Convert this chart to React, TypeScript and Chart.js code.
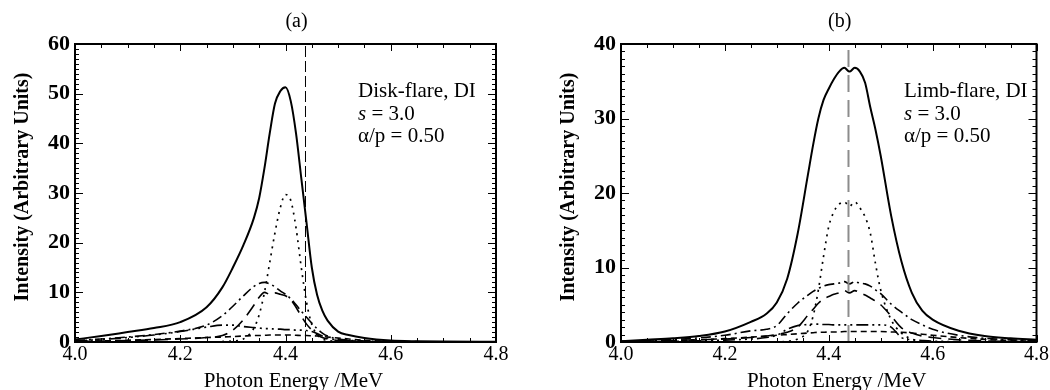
import React, { useEffect, useRef } from "react";
import { Chart, registerables } from "chart.js";

Chart.register(...registerables);

// ---------------- data ----------------
const xTickValues = [4.0, 4.2, 4.4, 4.6, 4.8];
const lineEnergy = 4.438;

// Panel (a): disk flare
const leftEnergy = [4.0, 4.05, 4.1, 4.15, 4.2, 4.25, 4.28, 4.3, 4.32, 4.34, 4.35, 4.36, 4.37, 4.38, 4.39, 4.4, 4.41, 4.42, 4.43, 4.44, 4.45, 4.46, 4.47, 4.48, 4.5, 4.52, 4.55, 4.6, 4.65, 4.7, 4.8];
const leftTotal = [0.5, 1.2, 2.0, 2.8, 4.0, 7.0, 11, 15, 19.5, 25, 29, 35, 42, 48, 50.5, 51.3, 48.5, 42, 33, 24, 15, 9.5, 6.3, 4.3, 2.1, 1.4, 0.8, 0.3, 0.15, 0.08, 0.03];
const leftDotted = [0, 0, 0, 0, 0, 0, 0.1, 0.2, 0.6, 2.8, 5.5, 10, 16, 22, 27, 29.7, 28.5, 23, 15, 8, 3.5, 1.5, 0.6, 0.3, 0.1, 0.05, 0, 0, 0, 0, 0];
const leftDashDot = [0.3, 0.6, 1.0, 1.5, 2.2, 3.4, 5.3, 7.2, 9.3, 11.2, 11.8, 12, 11.7, 11.1, 10.3, 9.6, 8.7, 7.5, 6.2, 5.0, 3.8, 2.7, 1.8, 1.2, 0.6, 0.35, 0.2, 0.08, 0.03, 0, 0];
const leftLongDash = [0.1, 0.2, 0.3, 0.4, 0.6, 0.9, 1.3, 2.4, 4.5, 7.4, 9.0, 10.0, 9.6, 9.9, 9.6, 9.3, 8.5, 7.0, 5.2, 3.6, 2.4, 1.5, 0.9, 0.6, 0.3, 0.2, 0.1, 0.05, 0, 0, 0];
const leftDashDot3 = [0.2, 0.5, 0.9, 1.4, 2.1, 3.0, 3.4, 3.4, 3.1, 2.9, 2.8, 2.7, 2.7, 2.6, 2.6, 2.5, 2.5, 2.4, 2.4, 2.3, 2.1, 1.7, 1.2, 0.8, 0.4, 0.25, 0.12, 0.05, 0.02, 0, 0];
const leftDashed = [0.1, 0.2, 0.35, 0.5, 0.7, 0.9, 1.0, 1.1, 1.2, 1.3, 1.3, 1.35, 1.4, 1.4, 1.4, 1.4, 1.4, 1.35, 1.3, 1.3, 1.25, 1.2, 1.1, 1.0, 0.8, 0.6, 0.35, 0.15, 0.07, 0.03, 0];
const leftYMax = 60;

// Panel (b): limb flare
const rightEnergy = [4.0, 4.05, 4.1, 4.15, 4.2, 4.25, 4.28, 4.3, 4.32, 4.34, 4.36, 4.37, 4.38, 4.39, 4.4, 4.41, 4.42, 4.43, 4.44, 4.45, 4.46, 4.47, 4.48, 4.49, 4.5, 4.52, 4.54, 4.56, 4.58, 4.6, 4.65, 4.7, 4.75, 4.8];
const rightTotal = [0.1, 0.3, 0.5, 0.8, 1.4, 2.7, 3.8, 5.3, 8.5, 14.5, 22.5, 26.5, 30, 32.5, 34, 35.3, 36.3, 36.8, 36.3, 36.8, 36.3, 34.8, 31.5, 28.5, 25, 17, 10.8, 6.6, 4.2, 3.0, 1.5, 0.8, 0.5, 0.3];
const rightDotted = [0, 0, 0, 0, 0, 0, 0, 0, 0.1, 0.4, 1.5, 3.5, 7.0, 11.5, 15.5, 17.5, 18.5, 18.8, 18.2, 18.8, 18.0, 16.8, 14.6, 10.5, 7.0, 3.0, 1.2, 0.4, 0.1, 0, 0, 0, 0, 0];
const rightDashDot = [0.1, 0.2, 0.35, 0.55, 0.9, 1.5, 1.7, 2.2, 3.8, 5.2, 6.3, 6.8, 7.2, 7.5, 7.7, 7.8, 7.9, 8.1, 7.8, 8.1, 7.9, 7.8, 7.5, 7.0, 6.5, 5.1, 4.0, 3.0, 2.3, 1.7, 0.9, 0.5, 0.3, 0.2];
const rightLongDash = [0.05, 0.1, 0.2, 0.3, 0.4, 0.6, 0.8, 1.0, 1.3, 2.0, 3.6, 4.4, 5.2, 5.8, 6.1, 6.4, 6.6, 6.9, 6.6, 6.9, 6.6, 6.3, 5.9, 5.5, 5.0, 3.5, 1.9, 1.2, 0.8, 0.6, 0.3, 0.15, 0.08, 0.05];
const rightDashDot3 = [0, 0.05, 0.1, 0.15, 0.25, 0.4, 0.6, 0.9, 1.7, 2.2, 2.35, 2.4, 2.4, 2.35, 2.35, 2.3, 2.3, 2.3, 2.3, 2.3, 2.3, 2.3, 2.3, 2.3, 2.3, 2.0, 0.6, 0.3, 0.2, 0.12, 0.05, 0.02, 0, 0];
const rightDashed = [0.05, 0.1, 0.2, 0.3, 0.45, 0.65, 0.8, 0.9, 1.0, 1.1, 1.2, 1.25, 1.3, 1.3, 1.35, 1.35, 1.35, 1.4, 1.4, 1.4, 1.4, 1.4, 1.4, 1.4, 1.4, 1.35, 1.3, 1.2, 1.05, 0.9, 0.6, 0.35, 0.2, 0.1];
const rightYMax = 40;

// ---------------- styles ----------------
const FONT = "'Liberation Serif', 'Times New Roman', serif";

const seriesStyles = [
  { width: 2, dash: [] as number[] },
  { width: 1.7, dash: [2, 5] },
  { width: 1.6, dash: [10, 4, 2, 4] },
  { width: 1.6, dash: [13, 7] },
  { width: 1.6, dash: [12, 4, 2, 4, 2, 4, 2, 4] },
  { width: 1.6, dash: [6, 4] },
];

type Panel = {
  title: string;
  energy: number[];
  series: number[][];
  yMax: number;
  yWidth: number;
  padRight: number;
  yTitleX: number;
  vline: { color: string; width: number; dash: number[] };
  lines: string[];
};

const panels: Panel[] = [
  {
    title: "(a)",
    energy: leftEnergy,
    series: [leftTotal, leftDotted, leftDashDot, leftLongDash, leftDashDot3, leftDashed],
    yMax: leftYMax,
    yWidth: 75,
    padRight: 29,
    yTitleX: 28,
    vline: { color: "#000", width: 1, dash: [11, 4] },
    lines: ["Disk-flare, DI", "s = 3.0", "α/p = 0.50"],
  },
  {
    title: "(b)",
    energy: rightEnergy,
    series: [rightTotal, rightDotted, rightDashDot, rightLongDash, rightDashDot3, rightDashed],
    yMax: rightYMax,
    yWidth: 96,
    padRight: 13,
    yTitleX: 49,
    vline: { color: "#8c8c8c", width: 2, dash: [17, 8] },
    lines: ["Limb-flare, DI", "s = 3.0", "α/p = 0.50"],
  },
];

// ---------------- plugin: frame, inner ticks, texts ----------------
const decorPlugin = {
  id: "decor",
  afterDatasetsDraw(chart: any, _args: any, opts: any) {
    const { ctx, chartArea: a, scales } = chart;
    const xs = scales.x;
    const ys = scales.y;
    ctx.save();
    ctx.strokeStyle = "#000";
    ctx.lineWidth = 1;
    ctx.setLineDash([]);
    // x ticks (major every 0.2, minor every 0.05)
    for (let i = 0; i <= 16; i++) {
      const v = 4.0 + i * 0.05;
      const px = Math.round(xs.getPixelForValue(v)) + 0.5;
      const len = i % 4 === 0 ? 7 : 4;
      ctx.beginPath();
      ctx.moveTo(px, a.bottom);
      ctx.lineTo(px, a.bottom - len);
      ctx.moveTo(px, a.top);
      ctx.lineTo(px, a.top + len);
      ctx.stroke();
    }
    // y ticks (major every 10, minor every 1)
    for (let v = 0; v <= opts.yMax; v++) {
      const py = Math.round(ys.getPixelForValue(v)) + 0.5;
      const len = v % 10 === 0 ? 8 : 4;
      ctx.beginPath();
      ctx.moveTo(a.left, py);
      ctx.lineTo(a.left + len, py);
      ctx.moveTo(a.right, py);
      ctx.lineTo(a.right - len, py);
      ctx.stroke();
    }
    // frame
    ctx.lineWidth = 2;
    ctx.strokeRect(a.left, a.top, a.right - a.left, a.bottom - a.top);

    ctx.fillStyle = "#000";
    // panel title
    ctx.font = `20px ${FONT}`;
    ctx.textAlign = "center";
    ctx.textBaseline = "alphabetic";
    ctx.fillText(opts.title, (a.left + a.right) / 2 + 11, 27);
    // x axis title
    ctx.font = `21px ${FONT}`;
    ctx.fillText("Photon Energy /MeV", (a.left + a.right) / 2 + 8, 387);
    // y axis title
    ctx.save();
    ctx.translate(opts.yTitleX, 187);
    ctx.rotate(-Math.PI / 2);
    ctx.font = `bold 20px ${FONT}`;
    ctx.fillText("Intensity (Arbitrary Units)", 0, 0);
    ctx.restore();

    // annotation
    ctx.textAlign = "left";
    const tx = a.left + 283;
    ctx.font = `21px ${FONT}`;
    ctx.fillText(opts.lines[0], tx, 97);
    // second line: italic s
    const l2: string = opts.lines[1];
    ctx.font = `italic 21px ${FONT}`;
    ctx.fillText(l2.charAt(0), tx, 120);
    const w = ctx.measureText(l2.charAt(0)).width;
    ctx.font = `21px ${FONT}`;
    ctx.fillText(l2.slice(1), tx + w, 120);
    ctx.fillText(opts.lines[2], tx, 142);
    ctx.restore();
  },
};

function buildConfig(p: Panel): any {
  const datasets: any[] = p.series.map((vals, i) => ({
    data: p.energy.map((e, k) => ({ x: e, y: vals[k] })),
    borderColor: "#000",
    borderWidth: seriesStyles[i].width,
    borderDash: seriesStyles[i].dash,
    pointRadius: 0,
    fill: false,
    cubicInterpolationMode: "monotone",
    order: 2,
  }));
  datasets.push({
    data: [
      { x: lineEnergy, y: 0 },
      { x: lineEnergy, y: p.yMax },
    ],
    borderColor: p.vline.color,
    borderWidth: p.vline.width,
    borderDash: p.vline.dash,
    pointRadius: 0,
    fill: false,
    order: 1,
  });
  return {
    type: "line",
    data: { datasets },
    options: {
      animation: false,
      responsive: false,
      maintainAspectRatio: false,
      layout: { padding: { top: 44, right: p.padRight, bottom: 0, left: 0 } },
      plugins: {
        legend: { display: false },
        tooltip: { enabled: false },
        title: { display: false },
        decor: { title: p.title, yMax: p.yMax, yTitleX: p.yTitleX, lines: p.lines },
      },
      scales: {
        x: {
          type: "linear",
          min: 4.0,
          max: 4.8,
          afterFit: (s: any) => {
            s.height = 48;
          },
          afterBuildTicks: (s: any) => {
            s.ticks = xTickValues.map((v) => ({ value: v }));
          },
          grid: { display: false, drawTicks: false },
          border: { display: false },
          ticks: {
            padding: 1,
            color: "#000",
            font: { family: FONT, size: 20 },
            callback: (v: any) => Number(v).toFixed(1),
            maxRotation: 0,
            autoSkip: false,
          },
        },
        y: {
          type: "linear",
          min: 0,
          max: p.yMax,
          afterFit: (s: any) => {
            s.width = p.yWidth;
          },
          grid: { display: false, drawTicks: false },
          border: { display: false },
          ticks: {
            stepSize: 10,
            padding: 5,
            color: "#000",
            font: { family: FONT, size: 22, weight: "bold" },
          },
        },
      },
    },
    plugins: [decorPlugin],
  };
}

function PanelChart({ panel }: { panel: Panel }) {
  const ref = useRef<HTMLCanvasElement | null>(null);
  useEffect(() => {
    if (!ref.current) return;
    const chart = new Chart(ref.current, buildConfig(panel));
    return () => chart.destroy();
  }, [panel]);
  return <canvas ref={ref} width={525} height={390} style={{ display: "block", width: 525, height: 390 }} />;
}

export default function App() {
  useEffect(() => {
    document.body.style.margin = "0";
    document.body.style.background = "#fff";
  }, []);
  return (
    <div style={{ display: "flex", width: 1050, height: 390, background: "#fff" }}>
      <PanelChart panel={panels[0]} />
      <PanelChart panel={panels[1]} />
    </div>
  );
}
